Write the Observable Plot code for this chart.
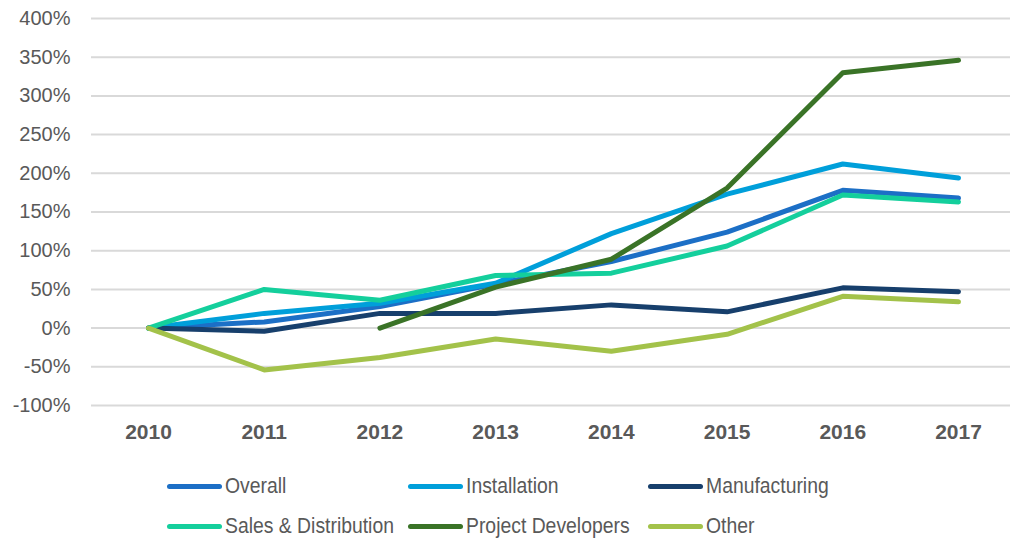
<!DOCTYPE html>
<html>
<head>
<meta charset="utf-8">
<script src="https://cdn.jsdelivr.net/npm/d3@7"></script>
<script src="https://cdn.jsdelivr.net/npm/@observablehq/plot@0.6"></script>
<style>
  html, body { margin: 0; padding: 0; background: #fff; }
  #chart svg { display: block; }
  #legend { position: relative; height: 86px; }
  .item { position: absolute; display: flex; align-items: center; height: 40px;
          font-family: "Liberation Sans", Arial, sans-serif; font-size: 22px; color: #595959; }
  .sw { width: 55px; height: 5px; border-radius: 3px; margin-right: 3px; flex: none; }
  .lbl { display: inline-block; transform: scaleX(0.88); transform-origin: left center; white-space: nowrap; }
</style>
</head>
<body>
<div id="chart"></div>
<div id="legend"></div>
<script>
const years = [2010, 2011, 2012, 2013, 2014, 2015, 2016, 2017];
const overall = [0, 8, 28, 57, 86, 124, 178, 168];
const installation = [0, 19, 32, 58, 122, 173, 212, 194];
const manufacturing = [0, -4, 19, 19, 30, 21, 52, 47];
const salesDistribution = [0, 50, 36, 68, 71, 106, 172, 163];
const projectDevelopers = [null, null, 0, 53, 89, 181, 330, 346];
const other = [0, -54, -38, -14, -30, -8, 41, 34];
const yTicks = [-100, -50, 0, 50, 100, 150, 200, 250, 300, 350, 400];

const seriesNames = ["Overall", "Installation", "Manufacturing", "Sales & Distribution", "Project Developers", "Other"];
const seriesValues = [overall, installation, manufacturing, salesDistribution, projectDevelopers, other];
const colors = ["#1C6FC6", "#009FDA", "#173F6C", "#14CF9C", "#3A7327", "#A3C24A"];

const data = [];
seriesNames.forEach((name, i) => {
  years.forEach((yr, j) => {
    const v = seriesValues[i][j];
    if (v !== null) data.push({series: name, year: yr, value: v});
  });
});

const chart = Plot.plot({
  width: 1010,
  height: 455,
  marginLeft: 91,
  marginRight: 0,
  marginTop: 0,
  marginBottom: 50,
  style: {fontFamily: "Liberation Sans, Arial, sans-serif", color: "#595959", background: "#fff"},
  x: {domain: [2010, 2017], range: [148, 958]},
  y: {domain: [-100, 400], range: [405, 18]},
  color: {domain: seriesNames, range: colors},
  marks: [
    Plot.ruleY(yTicks, {stroke: "#d9d9d9", strokeWidth: 2}),
    Plot.axisY({ticks: yTicks, tickSize: 0, tickPadding: 21, tickFormat: d => d + "%",
                fontSize: 20, label: null, fill: "#595959"}),
    Plot.axisX({ticks: years, tickSize: 0, tickPadding: 19, tickFormat: d => String(d),
                fontSize: 21, fontWeight: "bold", label: null, fill: "#595959"}),
    Plot.line(data, {x: "year", y: "value", z: "series", stroke: "series",
                     strokeWidth: 5, strokeLinecap: "round", strokeLinejoin: "round"})
  ]
});
document.getElementById("chart").appendChild(chart);

const legend = document.getElementById("legend");
const colLefts = [167, 408, 648];
seriesNames.forEach((name, i) => {
  const row = Math.floor(i / 3), col = i % 3;
  const item = document.createElement("div");
  item.className = "item";
  item.style.left = colLefts[col] + "px";
  item.style.top = (11 + row * 40) + "px";
  const sw = document.createElement("div");
  sw.className = "sw";
  sw.style.background = colors[i];
  const label = document.createElement("span");
  label.className = "lbl";
  label.textContent = name;
  item.appendChild(sw);
  item.appendChild(label);
  legend.appendChild(item);
});
</script>
</body>
</html>
